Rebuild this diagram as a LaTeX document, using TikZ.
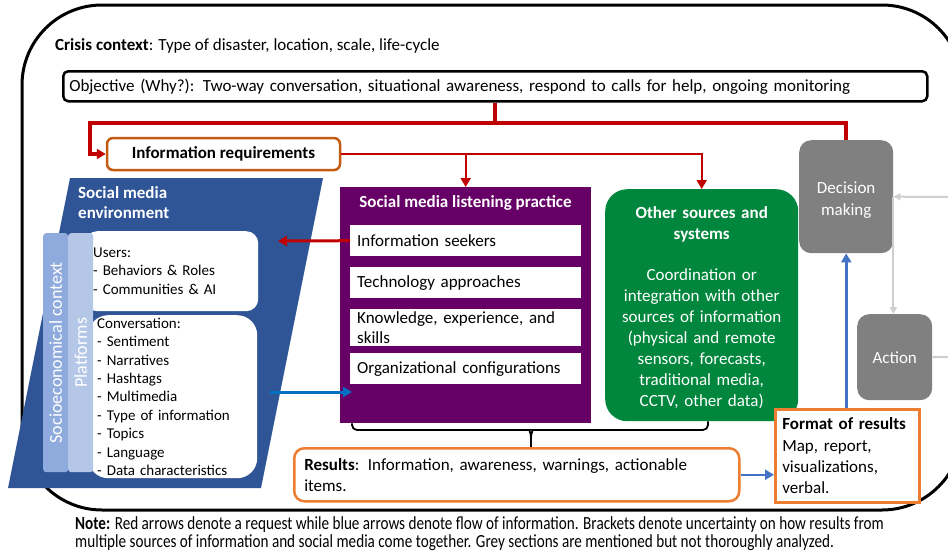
\documentclass[tikz,border=0pt]{standalone}
\usepackage{fontspec}
\setmainfont{Carlito}
\newfontfamily\notefont[FakeStretch=0.82]{Carlito}
\usepackage{tikz}
\usetikzlibrary{arrows.meta,positioning,calc}

\definecolor{reqred}{HTML}{C00000}
\definecolor{reqorange}{HTML}{C55A11}
\definecolor{resorange}{HTML}{ED7D31}
\definecolor{smblue}{HTML}{2F5597}
\definecolor{socioblue}{HTML}{8FAADC}
\definecolor{platblue}{HTML}{B4C7E7}
\definecolor{listenpurple}{HTML}{660066}
\definecolor{othergreen}{HTML}{00873D}
\definecolor{greysec}{HTML}{808080}
\definecolor{greyarrow}{HTML}{D0CECE}
\definecolor{flowblue}{HTML}{4472C4}
\definecolor{convblue}{HTML}{0070C0}

\begin{document}
\begin{tikzpicture}[x=1pt, y=-1pt,
  every node/.style={font=\fontsize{17}{20}\selectfont, inner sep=0pt},
  reqthick/.style={draw=reqred, line width=4pt},
  reqthin/.style={draw=reqred, line width=2.2pt},
  reqtip/.style={-{Triangle[length=9pt,width=10pt]}},
  flowarrow/.style={line width=3pt, -{Triangle[length=9pt,width=10pt]}},
  greyflow/.style={draw=greyarrow, line width=2pt, -{Triangle[length=7pt,width=7pt]}},
  objbox/.style={draw, line width=2.5pt, rounded corners=5pt, anchor=north west},
  reqbox/.style={draw=reqorange, line width=2.5pt, rounded corners=6pt, fill=white},
  resbox/.style={draw=resorange, line width=2.5pt, fill=white, anchor=north west, align=left},
  listenitem/.style={fill=white, anchor=north west, minimum width=231pt, text width=217pt, inner xsep=7pt, align=left},
  envbox/.style={fill=white, rounded corners=12pt, anchor=north west, align=left, font=\fontsize{15}{18.4}\selectfont},
  envbar/.style={anchor=north west, minimum width=25pt, minimum height=239pt, rounded corners=3pt},
  greybox/.style={fill=greysec, rounded corners=12pt, anchor=north west, minimum width=#1},
  greytext/.style={text=white, align=center, font=\fontsize{17}{22}\selectfont},
  bracket/.style={draw, line width=1.8pt, rounded corners=5pt}
]
\useasboundingbox (0,0) rectangle (948,554);
\clip (0,0) rectangle (948,554);

% crisis context frame
\draw[line width=3pt, rounded corners=80pt] (22,5) rectangle (962,510);
\node[anchor=base west] (crisis) at (55,50) {\textbf{Crisis context}: Type of disaster, location, scale, life-cycle};

\node[objbox, minimum height=30pt, text width=852pt, inner xsep=6pt, align=left] (objective) at (62,70)
  {Objective (Why?): Two-way conversation, situational awareness, respond to calls for help, ongoing monitoring};

\node[reqbox, minimum width=233pt, minimum height=32pt, font=\bfseries\fontsize{17}{20}\selectfont] (inforeq) at (223.5,154) {Information requirements};

% social media environment
\fill[smblue] (70,178) -- (323,178) -- (261,488) -- (8,488) -- cycle;
\node[anchor=north west, text=white, align=left, font=\bfseries\fontsize{17}{20}\selectfont] (envtitle) at (78,186) {Social media\\environment};
\node[envbox, minimum width=173pt, minimum height=80pt, text width=157pt, inner xsep=8pt] (users) at (85,231)
  {Users:\\- Behaviors \& Roles\\- Communities \& AI};
\node[envbox, rounded corners=20pt, minimum width=169pt, minimum height=163pt, text width=151pt, inner xsep=9pt] (conversation) at (88,315)
  {Conversation:\\- Sentiment\\- Narratives\\- Hashtags\\- Multimedia\\- Type of information\\- Topics\\- Language\\- Data characteristics};
\node[envbar, fill=socioblue] (socio) at (43,233) {};
\node[envbar, fill=platblue] (platforms) at (68,233) {};
\node[rotate=90, text=white, font=\fontsize{18}{20}\selectfont] at (socio.center) {Socioeconomical context};
\node[rotate=90, text=white, font=\fontsize{18}{20}\selectfont] at (platforms.center) {Platforms};
\coordinate (usersin) at (278,241);
\coordinate (convout) at (270,392);

% listening practice
\node[fill=listenpurple, anchor=north west, minimum width=251pt, minimum height=236pt] (listening) at (340,187) {};
\node[text=white, font=\bfseries\fontsize{17}{20}\selectfont] (listentitle) at (465.5,203) {Social media listening practice};
\node[listenitem, minimum height=31pt] (seekers) at (350,225) {Information seekers};
\node[listenitem, minimum height=31pt] (technology) at (350,267) {Technology approaches};
\node[listenitem, minimum height=37pt, font=\fontsize{17}{20}\selectfont] (knowledge) at (350,309) {Knowledge, experience, and\\skills};
\node[listenitem, minimum height=31pt] (organization) at (350,353) {Organizational configurations};
\coordinate (listenin) at (352,392);

% other sources
\node[fill=othergreen, rounded corners=22pt, anchor=north west, minimum width=193pt, minimum height=232pt] (other) at (605,189) {};
\node[text width=185pt, align=center, text=white, font=\fontsize{17}{21}\selectfont] (othertext) at ($(other.center)+(0,3)$)
  {\textbf{Other sources and}\\\textbf{systems}\\[20pt]Coordination or\\integration with other\\sources of information\\(physical and remote\\sensors, forecasts,\\traditional media,\\CCTV, other data)};

% decision and action (grey)
\node[greybox=94pt, minimum height=113pt] (decision) at (799,140) {};
\node[greytext] (decisiontext) at ($(decision.center)+(0,3)$) {Decision\\making};
\node[greybox=75pt, minimum height=86pt] (action) at (857,314) {};
\node[greytext] (actiontext) at (action.center) {Action};
\coordinate (loopin) at (960,197);
\coordinate (loopout) at (960,357);

% results
\node[resbox, rounded corners=10pt, minimum width=445pt, minimum height=53pt, text width=425pt, inner xsep=10pt,
  font=\fontsize{17}{21}\selectfont] (results) at (293,447)
  {\textbf{Results}: Information, awareness, warnings, actionable\\items.};
\node[resbox, minimum width=144pt, minimum height=93pt, text width=130pt, inner xsep=7pt,
  font=\fontsize{17}{21.3}\selectfont] (format) at (774,408)
  {\textbf{Format of results}\\Map, report,\\visualizations,\\verbal.};

% bracket
\coordinate (brtip) at (531,437);
\draw[bracket] (listening.south -| 352,0) |- (525,430) to[out=0,in=90] (brtip);
\draw[bracket] (other.south -| 708,0) |- (537,430) to[out=180,in=90] (brtip);
\draw[line width=1.8pt] (brtip) -- (brtip |- results.north);

% requests (red)
\coordinate (split) at ($(objective.south)+(0,20)$);
\draw[reqthick] (objective.south) -- (split);
\draw[reqthick] (split) -| (decision.north);
\draw[reqthick, reqtip] (split) -- (split -| 90,0) |- (inforeq.west);
\draw[reqthin, reqtip] (inforeq.east) -| (other.north);
\draw[reqthin, reqtip] (inforeq.east -| listening.north) -- (listening.north);
\draw[reqthick, line width=3pt, reqtip] (seekers.west) -- (usersin);

% information flow (blue)
\draw[flowarrow, draw=convblue] (convout) -- (listenin);
\draw[flowarrow, draw=flowblue] (format.north -| decision.south) -- (decision.south);
\draw[flowarrow, draw=flowblue, line width=2.5pt] (results.east) -- (format.west |- results.east);

% grey loop
\draw[greyflow] (loopin) -- (decision.east);
\draw[greyflow] (decision.east) -- (decision.east |- action.north);
\draw[draw=greyarrow, line width=2pt] (action.east) -- (loopout);

\node[anchor=north west, align=left, font=\notefont\fontsize{18.5}{18.5}\selectfont] (note) at (75,516)
  {\textbf{Note:} Red arrows denote a request while blue arrows denote flow of information. Brackets denote uncertainty on how results from\\multiple sources of information and social media come together. Grey sections are mentioned but not thoroughly analyzed.};
\end{tikzpicture}
\end{document}
